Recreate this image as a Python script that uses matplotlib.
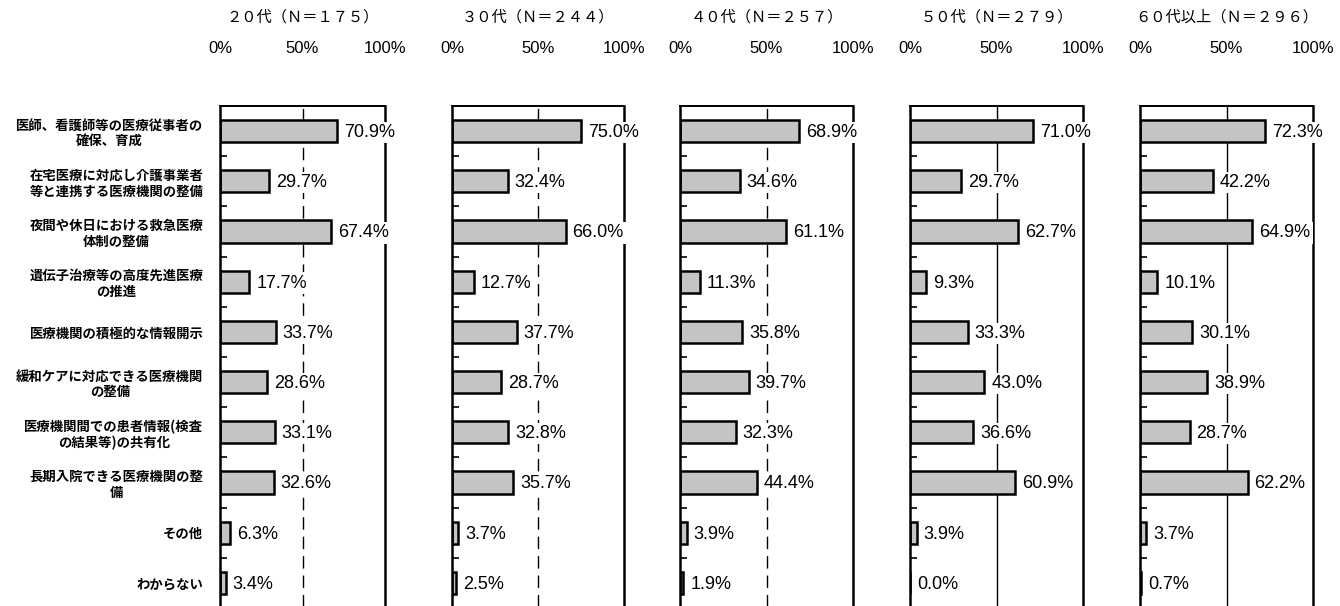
import numpy as np
from matplotlib import pyplot as plt

plt.rcParams['font.family'] = ['Liberation Sans', 'Noto Sans CJK JP', 'DejaVu Sans']

# Dados do grafico
items = [
    "医師、看護師等の医療従事者の\n確保、育成",
    "在宅医療に対応し介護事業者\n等と連携する医療機関の整備",
    "夜間や休日における救急医療\n体制の整備",
    "遺伝子治療等の高度先進医療\nの推進",
    "医療機関の積極的な情報開示",
    "緩和ケアに対応できる医療機関\nの整備",
    "医療機関間での患者情報(検査\nの結果等)の共有化",
    "長期入院できる医療機関の整\n備",
    "その他",
    "わからない",
]
groups = ["２０代（Ｎ＝１７５）", "３０代（Ｎ＝２４４）", "４０代（Ｎ＝２５７）",
          "５０代（Ｎ＝２７９）", "６０代以上（Ｎ＝２９６）"]
v20 = [70.9, 29.7, 67.4, 17.7, 33.7, 28.6, 33.1, 32.6, 6.3, 3.4]
v30 = [75.0, 32.4, 66.0, 12.7, 37.7, 28.7, 32.8, 35.7, 3.7, 2.5]
v40 = [68.9, 34.6, 61.1, 11.3, 35.8, 39.7, 32.3, 44.4, 3.9, 1.9]
v50 = [71.0, 29.7, 62.7, 9.3, 33.3, 43.0, 36.6, 60.9, 3.9, 0.0]
v60 = [72.3, 42.2, 64.9, 10.1, 30.1, 38.9, 28.7, 62.2, 3.7, 0.7]
xticks = [0, 50, 100]
xticklabels = ["0%", "50%", "100%"]

series = [v20, v30, v40, v50, v60]

W, H = 1340, 606
fig = plt.figure(figsize=(W / 100, H / 100), dpi=100)

# posicoes dos paineis em pixels
lefts = [220, 452, 680, 910, 1140]
widths = [165, 172, 173, 173, 173]
top_px = 106
height_px = 502

y = np.arange(len(items))

for i in range(len(series)):
    ax = fig.add_axes([lefts[i] / W, (H - top_px - height_px) / H,
                       widths[i] / W, height_px / H])
    vals = series[i]

    if i < 3:
        ax.axvline(50, color='black', lw=1.0, dashes=(9, 5), zorder=1)
    else:
        ax.axvline(50, color='black', lw=1.0, zorder=1)

    ax.barh(y, vals, height=0.44, color='#c4c4c4', edgecolor='black',
            linewidth=1.8, zorder=2)

    for j in range(len(vals)):
        ax.annotate(f"{vals[j]:.1f}%", (vals[j], y[j]), xytext=(5, -1),
                    textcoords='offset points', va='center', ha='left',
                    fontsize=13, zorder=3,
                    bbox=dict(facecolor='white', edgecolor='none', pad=1.5))

    ax.set_xlim(0, 100)
    ax.set_ylim(9.5, -0.5)

    ax.xaxis.tick_top()
    ax.set_xticks(xticks)
    ax.set_xticklabels(xticklabels, fontsize=12)
    ax.tick_params(axis='x', length=0, pad=36)

    ax.set_yticks(y)
    ax.set_yticks(np.arange(0.5, 9.5, 1), minor=True)
    ax.tick_params(axis='y', which='minor', direction='in', length=5, width=1.2)
    ax.tick_params(axis='y', which='major', length=0, pad=12)
    if i == 0:
        ax.set_yticklabels(items, fontsize=9.6, fontweight='bold',
                           family=['Noto Sans CJK JP'], linespacing=1.15,
                           multialignment='center')
    else:
        ax.set_yticklabels([])

    for s in ['left', 'right']:
        ax.spines[s].set_linewidth(1.8)
    ax.spines['top'].set_linewidth(1.4)
    ax.spines['bottom'].set_visible(False)

    fig.text((lefts[i] + widths[i] / 2) / W, 1 - 17 / H, groups[i],
             ha='center', va='center', fontsize=11, family=['Noto Sans CJK JP'])

plt.savefig('out.png', dpi=100)
